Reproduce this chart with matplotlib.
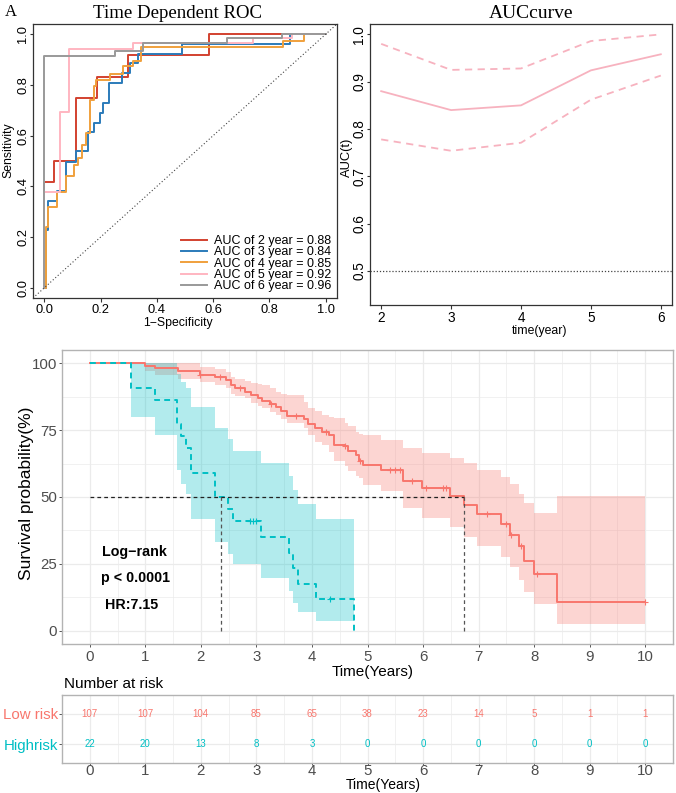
import matplotlib
matplotlib.use("Agg")
import matplotlib.pyplot as plt
import numpy as np

W, H = 676, 793
plt.rcParams["font.family"] = ["Liberation Sans", "DejaVu Sans"]
SERIF = ["Liberation Serif", "DejaVu Serif"]

# ── colours ────────────────────────────────────────────────────────────────
AXIS = "#333333"
ROC_COLORS = ["#D2412F", "#2B7BBA", "#F0A03C", "#FFB6C1", "#999999"]
AUC_PINK = "#F7B2BF"
LOW = "#F8766D"
HIGH = "#00BFC4"
GRID = "#EBEBEB"
BORDER = "#B3B3B3"
TICK_TXT = "#4D4D4D"

# ── ROC data (staircase vertices: fpr where tpr jumps, new tpr) ────────────
roc_years = [2, 3, 4, 5, 6]
roc_auc = [0.88, 0.84, 0.85, 0.92, 0.96]
fpr_2y = [0, 0, 0.034, 0.114, 0.187, 0.298, 0.586, 1.0]
tpr_2y = [0, 0.418, 0.500, 0.750, 0.833, 0.917, 1.0, 1.0]
fpr_3y = [0, 0.007, 0.014, 0.046, 0.077, 0.114, 0.155, 0.177, 0.198, 0.21,
          0.231, 0.275, 0.304, 0.333, 0.49, 0.874, 1.0]
tpr_3y = [0, 0.229, 0.344, 0.38, 0.497, 0.54, 0.614, 0.651, 0.69, 0.729,
          0.807, 0.846, 0.885, 0.922, 0.961, 1.0, 1.0]
fpr_4y = [0, 0.007, 0.014, 0.046, 0.077, 0.104, 0.12, 0.134, 0.149, 0.161,
          0.175, 0.184, 0.234, 0.28, 0.316, 0.345, 0.849, 0.924, 1.0]
tpr_4y = [0, 0.239, 0.32, 0.379, 0.44, 0.485, 0.511, 0.563, 0.612, 0.74,
          0.797, 0.821, 0.844, 0.873, 0.895, 0.95, 0.974, 1.0, 1.0]
fpr_5y = [0, 0, 0.057, 0.087, 0.316, 0.742, 0.879, 1.0]
tpr_5y = [0, 0.376, 0.694, 0.942, 0.965, 0.983, 1.0, 1.0]
fpr_6y = [0, 0, 0.251, 0.351, 0.65, 0.846, 1.0]
tpr_6y = [0, 0.912, 0.932, 0.967, 0.983, 1.0, 1.0]

# ── AUC over time ──────────────────────────────────────────────────────────
auc_time = [2, 3, 4, 5, 6]
auc_mid = [0.88, 0.84, 0.85, 0.924, 0.958]
auc_low = [0.778, 0.754, 0.771, 0.862, 0.913]
auc_high = [0.98, 0.925, 0.928, 0.986, 1.0]

# ── Kaplan-Meier: low risk ─────────────────────────────────────────────────
lr_t = [0, 0.99, 1.17, 1.59, 1.98, 2.25, 2.45, 2.55, 2.62, 2.80,
        2.90, 3.03, 3.10, 3.25, 3.35, 3.45, 3.55, 3.85, 3.93, 4.05,
        4.18, 4.30, 4.40, 4.59, 4.65, 4.80, 4.85, 4.92, 5.25, 5.64,
        5.99, 6.48, 6.74, 6.98, 7.40, 7.57, 7.73, 7.82, 7.99, 8.41]
lr_s = [100, 99.1, 98.1, 97.2, 95.8, 94.9, 93.9, 92.0, 90.6, 89.2,
        88.1, 87.0, 85.8, 84.7, 83.7, 82.0, 80.3, 79.0, 77.5, 75.8,
        74.5, 73.1, 69.5, 68.9, 67.3, 65.8, 63.6, 62.1, 60.2, 55.9,
        53.4, 50.3, 47.0, 43.5, 39.8, 35.8, 31.5, 26.1, 21.2, 10.6]
lr_lo = [100, 97.3, 95.8, 94.3, 93.1, 91.8, 90.6, 88.7, 87.8, 86.9,
         85.0, 84.0, 83.2, 81.8, 80.7, 79.0, 77.6, 75.7, 73.2, 70.7,
         69.5, 67.0, 63.5, 61.5, 59.8, 58.0, 57.0, 54.6, 52.1, 45.9,
         42.3, 38.6, 35.1, 31.7, 27.7, 23.9, 18.9, 14.3, 10.0, 2.3]
lr_hi = [100, 100, 100, 100, 98.6, 97.8, 96.8, 94.9, 94.3, 93.5,
         92.8, 92.2, 91.8, 90.6, 89.4, 88.7, 88.1, 85.6, 83.2, 82.0,
         80.8, 80.1, 79.4, 77.6, 76.5, 74.2, 73.6, 73.2, 71.4, 68.2,
         66.4, 64.6, 62.7, 60.2, 57.4, 54.7, 51.2, 47.8, 44.1, 50.3]
lr_end = 10.0
lr_cens = [1.98, 2.34, 2.7, 3.27, 3.72, 4.26, 4.59, 4.86, 5.40, 5.49, 5.58,
           5.80, 6.05, 6.36, 6.42, 7.16, 7.49, 7.59, 7.76, 8.06, 10.0]

# ── Kaplan-Meier: high risk ────────────────────────────────────────────────
hr_t = [0, 0.75, 1.18, 1.57, 1.65, 1.74, 1.83, 2.25, 2.49, 2.58,
        3.08, 3.58, 3.66, 3.75, 4.08, 4.75]
hr_s = [100, 90.9, 86.4, 77.3, 72.7, 68.2, 59.1, 50.0, 45.5, 40.9,
        35.1, 29.2, 23.4, 17.5, 11.7, 0]
hr_lo = [100, 80.0, 73.2, 60.0, 55.0, 51.0, 41.6, 33.0, 28.6, 24.9,
         19.6, 15.0, 10.3, 7.0, 3.5]
hr_hi = [100, 100, 100, 96.0, 93.0, 90.6, 83.8, 75.7, 71.7, 67.3,
         62.9, 57.7, 52.8, 47.2, 41.6]
hr_cens = [2.88, 2.94, 3.0, 4.32]

median_low, median_high = 6.74, 2.37

# ── number at risk ─────────────────────────────────────────────────────────
risk_times = list(range(0, 11))
risk_low = [107, 107, 104, 85, 65, 38, 23, 14, 5, 1, 1]
risk_high = [22, 20, 13, 8, 3, 0, 0, 0, 0, 0, 0]


def fx(px):
    return px / W


def fy(py):
    return 1 - py / H


def surv_at(times, surv, t):
    idx = np.searchsorted(times, t, side="right") - 1
    return surv[idx]


def r_axes(ax, size):
    for s in ax.spines.values():
        s.set_color(AXIS)
        s.set_linewidth(0.9)
    ax.tick_params(direction="out", length=3, width=0.8, color=AXIS,
                   labelsize=size, pad=1.5)
    ax.tick_params(axis="y", labelrotation=90, length=2.2, pad=0.6)
    for lbl in ax.get_yticklabels():
        lbl.set_va("center")


fig = plt.figure(figsize=(W / 100, H / 100), dpi=100)

# ── Time dependent ROC ─────────────────────────────────────────────────────
ax = fig.add_axes([fx(33), fy(298), 304 / W, 274 / H])
curves = [(fpr_2y, tpr_2y), (fpr_3y, tpr_3y), (fpr_4y, tpr_4y),
          (fpr_5y, tpr_5y), (fpr_6y, tpr_6y)]
handles = []
for (fp, tp), c, yr, a in zip(curves, ROC_COLORS, roc_years, roc_auc):
    h, = ax.plot(fp, tp, drawstyle="steps-post", color=c, lw=1.4,
                 label=f"AUC of {yr} year = {a:.2f}")
    handles.append(h)
ax.axline((0, 0), slope=1, color="#444444", lw=0.8, ls=(0, (1, 2)))
ax.set_xlim(-0.04, 1.04)
ax.set_ylim(-0.04, 1.04)
ax.set_xticks(np.arange(0, 1.01, 0.2))
ax.set_yticks(np.arange(0, 1.01, 0.2))
ax.set_xticklabels([f"{v:.1f}" for v in np.arange(0, 1.01, 0.2)])
ax.set_yticklabels([f"{v:.1f}" for v in np.arange(0, 1.01, 0.2)])
r_axes(ax, 9.3)
ax.legend(handles=handles, loc="lower right", frameon=False, fontsize=9,
          handlelength=2.1, handletextpad=0.55, labelspacing=-0.05,
          borderaxespad=0.0, borderpad=0.45)
fig.text(fx(5), fy(12), "A", family=SERIF, fontsize=12, va="center")
fig.text(fx(178), fy(13), "Time Dependent ROC", family=SERIF, fontsize=13.6,
         ha="center", va="center")
fig.text(fx(8), fy(150), "Sensitivity", fontsize=8.8, rotation=90,
         ha="center", va="center")
fig.text(fx(178), fy(323), "1\u2212Specificity", fontsize=8.8,
         ha="center", va="center")

# ── AUC curve ──────────────────────────────────────────────────────────────
ax = fig.add_axes([fx(370), fy(305), 302 / W, 281 / H])
ax.plot(auc_time, auc_mid, color=AUC_PINK, lw=1.3)
ax.plot(auc_time, auc_low, color=AUC_PINK, lw=1.3, ls=(0, (4, 3)))
ax.plot(auc_time, auc_high, color=AUC_PINK, lw=1.3, ls=(0, (4, 3)))
ax.axhline(0.5, color="#444444", lw=0.9, ls=(0, (1, 1.5)))
ax.set_xlim(1.84, 6.16)
ax.set_ylim(0.428, 1.022)
ax.set_xticks(auc_time)
ax.set_yticks(np.arange(0.5, 1.01, 0.1))
ax.set_yticklabels([f"{v:.1f}" for v in np.arange(0.5, 1.01, 0.1)])
r_axes(ax, 9.8)
ax.tick_params(axis="x", pad=1.0)
fig.text(fx(531), fy(13), "AUCcurve", family=SERIF, fontsize=14,
         ha="center", va="center")
fig.text(fx(347), fy(157), "AUC(t)", fontsize=9.3, rotation=90,
         ha="center", va="center")
fig.text(fx(540), fy(331), "time(year)", fontsize=8.8,
         ha="center", va="center")


# ── Kaplan-Meier curve ─────────────────────────────────────────────────────
def gg_axes(ax):
    for s in ax.spines.values():
        s.set_color(BORDER)
        s.set_linewidth(1.0)
    ax.set_axisbelow(True)
    ax.set_xlim(-0.5, 10.5)
    ax.set_xticks(risk_times)
    ax.set_xticks(np.arange(0.5, 10, 1), minor=True)
    ax.grid(which="major", color=GRID, lw=0.9)
    ax.grid(which="minor", color=GRID, lw=0.5)
    ax.tick_params(which="minor", length=0)
    ax.tick_params(which="major", length=2.5, width=0.7, color="#555555",
                   labelcolor=TICK_TXT, labelsize=10.8, pad=2)
    ax.tick_params(axis="y", pad=1.2)


ax = fig.add_axes([fx(62), fy(644), 611 / W, 294 / H])
gg_axes(ax)
ax.set_ylim(-5, 105)
ax.set_yticks([0, 25, 50, 75, 100])
ax.set_yticks([12.5, 37.5, 62.5, 87.5], minor=True)

lt = lr_t + [lr_end]
ax.fill_between(lt, lr_lo + [lr_lo[-1]], lr_hi + [lr_hi[-1]], step="post",
                color=LOW, alpha=0.3, lw=0)
ht = hr_t
ax.fill_between(ht, hr_lo + [hr_lo[-1]], hr_hi + [hr_hi[-1]], step="post",
                color=HIGH, alpha=0.3, lw=0)

ax.step(lt, lr_s + [lr_s[-1]], where="post", color=LOW, lw=1.4)
ax.step(ht, hr_s, where="post", color=HIGH, lw=1.4, ls=(0, (3, 2.2)))
ax.plot(lr_cens, [surv_at(lr_t, lr_s, t) for t in lr_cens], ls="none",
        marker="+", ms=5, mew=0.8, color=LOW)
ax.plot(hr_cens, [surv_at(hr_t, hr_s, t) for t in hr_cens], ls="none",
        marker="+", ms=5, mew=0.8, color=HIGH)

# median survival guides
ax.plot([0, median_low], [50, 50], color="#222222", lw=0.9, ls=(0, (3, 2.5)))
ax.plot([median_high, median_high], [0, 50], color="#555555", lw=0.9,
        ls=(0, (3, 2.5)))
ax.plot([median_low, median_low], [0, 50], color="#555555", lw=0.9,
        ls=(0, (3, 2.5)))

fig.text(fx(102), fy(552), "Log\u2212rank", fontsize=10.3, weight="bold",
         va="center")
fig.text(fx(101), fy(578), "p < 0.0001", fontsize=10.3, weight="bold",
         va="center")
fig.text(fx(105), fy(605), "HR:7.15", fontsize=10.3, weight="bold",
         va="center")
fig.text(fx(27), fy(493), "Survival probability(%)", fontsize=12.5,
         rotation=90, ha="center", va="center")
fig.text(fx(373), fy(672), "Time(Years)", fontsize=11, ha="center",
         va="center")

# ── risk table ─────────────────────────────────────────────────────────────
ax = fig.add_axes([fx(62), fy(763), 611 / W, 68 / H])
gg_axes(ax)
ax.set_ylim(0.4, 2.6)
ax.set_yticks([2, 1])
ax.set_yticklabels(["Low risk", "Highrisk"])
ax.tick_params(axis="y", labelsize=10.8, pad=0.5, length=2)
for lbl, c in zip(ax.get_yticklabels(), [LOW, HIGH]):
    lbl.set_color(c)
ax.tick_params(axis="x", pad=-0.5, length=1.2)
for t, a, b in zip(risk_times, risk_low, risk_high):
    ax.text(t, 2, str(a), color=LOW, fontsize=7, ha="center", va="center")
    ax.text(t, 1, str(b), color=HIGH, fontsize=7, ha="center", va="center")
fig.text(fx(64), fy(684), "Number at risk", fontsize=11, va="center")
fig.text(fx(383), fy(784.6), "Time(Years)", fontsize=10, ha="center",
         va="center")

fig.savefig("out.png", dpi=100)
